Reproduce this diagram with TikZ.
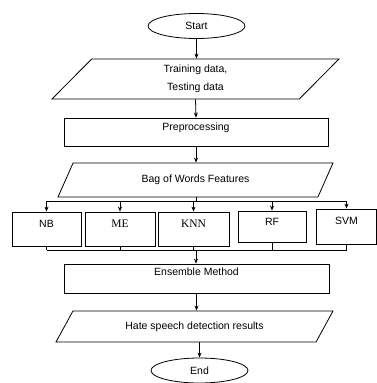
\documentclass[tikz,border=0pt]{standalone}
\usepackage{fontspec}
\setmainfont{Liberation Sans}
\newfontfamily\serifbox{Liberation Serif}
\usetikzlibrary{shapes.geometric,arrows.meta}

\tikzset{
  flow/.style={line width=0.8pt},
  flowarrow/.style={flow,-{Stealth[length=5pt,width=4pt]}},
  terminal/.style={draw,flow,ellipse,minimum width=97pt,minimum height=25pt,inner sep=0pt},
  dataio/.style={draw,flow,trapezium,trapezium stretches body,inner sep=0pt},
  process/.style={draw,flow,rectangle,inner xsep=0pt,inner ysep=0pt},
  every node/.style={font=\fontsize{10.5}{18}\selectfont}
}

\begin{document}
\begin{tikzpicture}[x=1pt,y=-1pt]

\useasboundingbox (0,0) rectangle (377,383) ;

% main column
\node[terminal] (start) at (196.5,26) {Start} ;
\node[dataio,trapezium left angle=35,trapezium right angle=145,
      minimum width=287pt,minimum height=40pt,align=center] (data) at (195.5,79)
      {Training data,\\Testing data} ;
\node[process,minimum width=264pt,text height=12pt,text depth=16pt] (prep) at (196,132) {Preprocessing} ;
\node[dataio,trapezium left angle=33,trapezium right angle=147,
      minimum width=275pt,minimum height=34pt] (bow) at (195.5,180) {Bag of Words Features} ;

% classifiers
\node[process,minimum width=69pt,text height=15pt,text depth=19pt] (nb) at (46.5,229) {NB} ;
\node[process,minimum width=70pt,text height=15pt,text depth=19pt,font=\serifbox\fontsize{11.5}{14}\selectfont] (me) at (120,229) {ME} ;
\node[process,minimum width=71pt,text height=15pt,text depth=19pt,font=\serifbox\fontsize{11.5}{14}\selectfont] (knn) at (193.5,229) {KNN} ;
\node[process,minimum width=68pt,text height=14pt,text depth=17pt] (rf) at (272,226.5) {RF} ;
\node[process,minimum width=60pt,text height=15pt,text depth=20pt] (svm) at (346.5,226.5) {SVM} ;

\node[process,minimum width=265pt,text height=11pt,text depth=18pt] (ens) at (196.5,278.5) {Ensemble Method} ;
\node[dataio,trapezium left angle=30,trapezium right angle=150,
      minimum width=277pt,minimum height=31pt] (res) at (194.5,326.5) {Hate speech detection results} ;
\node[terminal] (end) at (199.5,370.5) {End} ;

\coordinate (split) at (196,201) ;
\coordinate (merge) at (196,250) ;

\draw[flowarrow] (start) -- (start |- data.north) ;
\draw[flowarrow] (data.south) -- (prep.north) ;
\draw[flowarrow] (prep.south) -- (prep.south |- bow.north) ;

% fan out to the classifiers
\draw[flow] (bow.south -| split) -- (split) ;
\draw[flow] (split -| nb) -- (split -| svm) ;
\foreach \c in {nb,me,knn,rf,svm}
  \draw[flowarrow] (split -| \c) -- (\c.north) ;

% collect the outputs
\draw[flow] (merge -| nb) -- (merge -| svm) ;
\foreach \c in {nb,me,knn,rf,svm}
  \draw[flow] (\c.south) -- (merge -| \c) ;
\draw[flowarrow] (merge) -- (merge |- ens.north) ;

\draw[flowarrow] (ens.south) -- (ens.south |- res.north) ;
\draw[flowarrow] (res.south -| end) -- (end.north) ;

\end{tikzpicture}
\end{document}
